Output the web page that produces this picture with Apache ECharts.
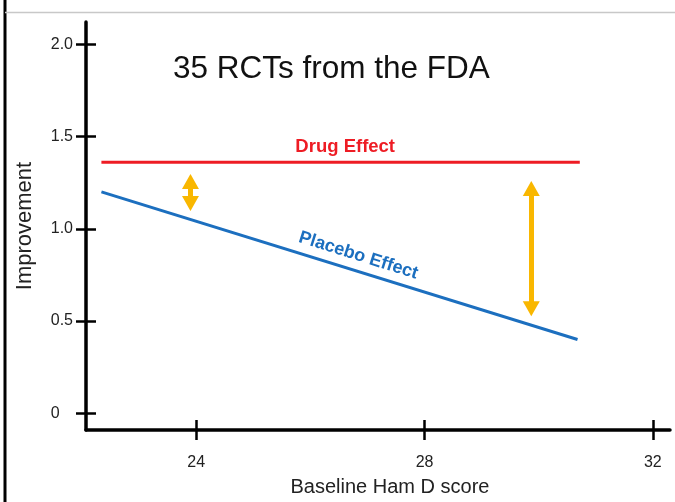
<!DOCTYPE html>
<html>
<head>
<meta charset="utf-8">
<script src="https://cdn.jsdelivr.net/npm/echarts@6/dist/echarts.min.js"></script>
<style>
  html, body { margin: 0; padding: 0; background: #fff; }
  #chart { width: 675px; height: 502px; }
</style>
</head>
<body>
<div id="chart"></div>
<script>
// x: baseline Ham D score, y: improvement
const xTicks = [24, 28, 32];
const yTicks = [0, 0.5, 1.0, 1.5, 2.0];
const yTickLabels = ['0   ', '0.5', '1.0', '1.5', '2.0'];

const drugX = [22.34, 30.72];
const drugY = [1.36, 1.36];
const placeboX = [22.34, 30.68];
const placeboY = [1.20, 0.40];

// gap arrows (vertical, double-headed), centres of the two heads
const arrowX = [23.9, 29.87];
const arrowTop = [1.256, 1.218];
const arrowBottom = [1.137, 0.567];

const drugLabel = { text: 'Drug Effect', x: 26.61, y: 1.446 };
const placeboLabel = { text: 'Placebo Effect', x: 26.84, y: 0.855 };

const FONT = '"Liberation Sans", Arial, sans-serif';

const pairs = (xs, ys) => xs.map((x, i) => [x, ys[i]]);

const chart = echarts.init(document.getElementById('chart'));

const option = {
  animation: false,
  backgroundColor: '#fff',
  title: {
    text: '35 RCTs from the FDA',
    left: 168,
    top: 48,
    textStyle: { fontFamily: FONT, fontSize: 31.5, fontWeight: 'normal', color: '#111' }
  },
  grid: { left: 86, right: 5, top: 22, bottom: 69 },
  xAxis: [
    {
      type: 'value',
      min: 22.07,
      max: 32.3,
      name: 'Baseline Ham D score',
      nameLocation: 'middle',
      nameGap: 47,
      nameTextStyle: { fontFamily: FONT, fontSize: 20, color: '#222', padding: [0, 0, 0, 24] },
      axisLine: { show: true, onZero: false, lineStyle: { color: '#000', width: 3.5 } },
      axisTick: { show: true, length: 10, customValues: xTicks, lineStyle: { color: '#000', width: 2.5 } },
      axisLabel: { customValues: xTicks, margin: 25, fontFamily: FONT, fontSize: 16, color: '#222' },
      splitLine: { show: false }
    },
    {
      type: 'value',
      min: 22.07,
      max: 32.3,
      position: 'bottom',
      axisLine: { show: false, onZero: false },
      axisTick: { show: true, inside: true, length: 10, customValues: xTicks, lineStyle: { color: '#000', width: 2.5 } },
      axisLabel: { show: false },
      splitLine: { show: false }
    }
  ],
  yAxis: [
    {
      type: 'value',
      min: -0.09,
      max: 2.12,
      name: 'Improvement',
      nameLocation: 'middle',
      nameGap: 50,
      nameTextStyle: { fontFamily: FONT, fontSize: 22, color: '#222' },
      axisLine: { show: true, onZero: false, lineStyle: { color: '#000', width: 3.5 } },
      axisTick: { show: true, length: 10, customValues: yTicks, lineStyle: { color: '#000', width: 2.5 } },
      axisLabel: {
        customValues: yTicks,
        margin: 13,
        fontFamily: FONT,
        fontSize: 16,
        color: '#222',
        formatter: v => yTickLabels[yTicks.indexOf(v)]
      },
      splitLine: { show: false }
    },
    {
      type: 'value',
      min: -0.09,
      max: 2.12,
      position: 'left',
      axisLine: { show: false, onZero: false },
      axisTick: { show: true, inside: true, length: 10, customValues: yTicks, lineStyle: { color: '#000', width: 2.5 } },
      axisLabel: { show: false },
      splitLine: { show: false }
    }
  ],
  series: [
    {
      name: 'Drug Effect',
      type: 'line',
      data: pairs(drugX, drugY),
      showSymbol: false,
      silent: true,
      lineStyle: { color: '#ee1c24', width: 3 },
      markPoint: {
        silent: true,
        symbolSize: 0,
        data: [{
          coord: [drugLabel.x, drugLabel.y],
          label: {
            show: true, position: 'inside', formatter: drugLabel.text,
            fontFamily: FONT, fontSize: 18.5, fontWeight: 'bold', color: '#ee1c24'
          }
        }]
      }
    },
    {
      name: 'Placebo Effect',
      type: 'line',
      data: pairs(placeboX, placeboY),
      showSymbol: false,
      silent: true,
      lineStyle: { color: '#1c6fbf', width: 3 },
      markPoint: {
        silent: true,
        symbolSize: 0,
        data: [{
          coord: [placeboLabel.x, placeboLabel.y],
          label: {
            show: true, position: 'inside', formatter: placeboLabel.text, rotate: -17.5,
            fontFamily: FONT, fontSize: 18, fontWeight: 'bold', color: '#1c6fbf'
          }
        }]
      },
      markLine: {
        silent: true,
        symbol: ['triangle', 'triangle'],
        symbolSize: [17, 15],
        label: { show: false },
        lineStyle: { color: '#f9b700', width: 5, type: 'solid' },
        emphasis: { disabled: true },
        data: arrowX.map((x, i) => [
          { coord: [x, arrowTop[i]] },
          { coord: [x, arrowBottom[i]] }
        ])
      }
    }
  ],
  graphic: [
    { type: 'line', shape: { x1: 5, y1: 0, x2: 5, y2: 502 }, style: { stroke: '#000', lineWidth: 3 }, silent: true },
    { type: 'line', shape: { x1: 5, y1: 12.5, x2: 675, y2: 12.5 }, style: { stroke: '#c8c8c8', lineWidth: 1.5 }, silent: true }
  ]
};

chart.setOption(option);
</script>
</body>
</html>
